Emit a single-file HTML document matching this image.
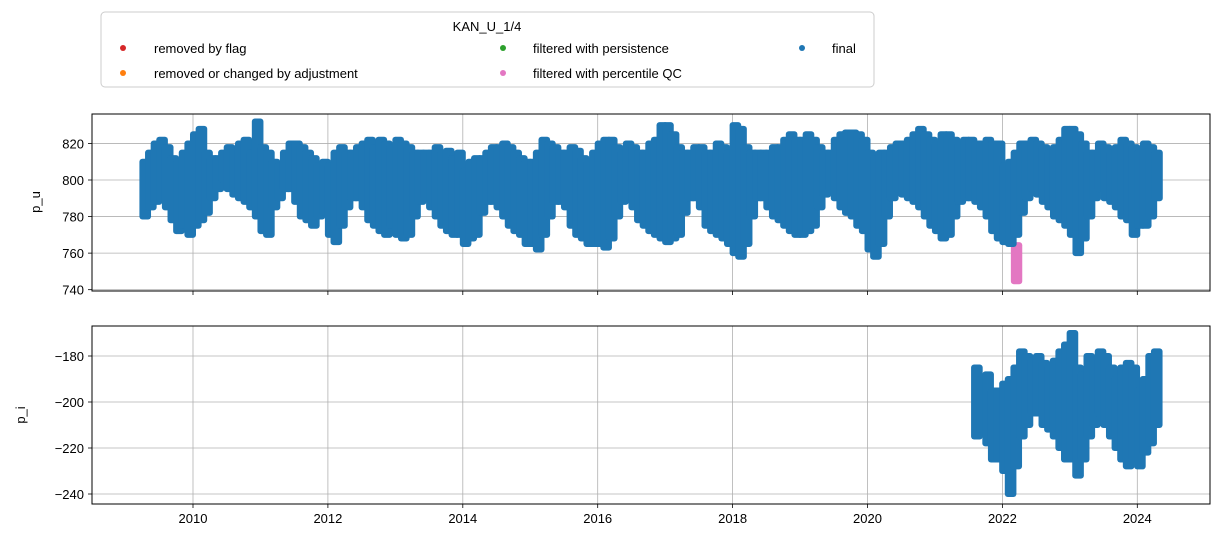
<!DOCTYPE html>
<html><head><meta charset="utf-8"><style>
body{margin:0;background:#fff;}
svg text{font-family:"Liberation Sans","DejaVu Sans",sans-serif;font-size:13px;fill:#000;}
</style></head><body>
<svg id="chart" width="1220" height="542" xmlns="http://www.w3.org/2000/svg">
<g>
<rect x="101" y="12" width="773" height="75" rx="4" fill="#fff" stroke="#ccc"/>
<text x="487" y="31" text-anchor="middle">KAN_U_1/4</text>
<g><circle cx="123" cy="48" r="3" fill="#d62728"/><text x="154" y="53">removed by flag</text></g>
<g><circle cx="123" cy="73" r="3" fill="#ff7f0e"/><text x="154" y="78">removed or changed by adjustment</text></g>
<g><circle cx="503" cy="48" r="3" fill="#2ca02c"/><text x="533" y="53">filtered with persistence</text></g>
<g><circle cx="503" cy="73" r="3" fill="#e377c2"/><text x="533" y="78">filtered with percentile QC</text></g>
<g><circle cx="802" cy="48" r="3" fill="#1f77b4"/><text x="832" y="53">final</text></g>
</g>
<g id="topPanel"></g>
<g id="botPanel"></g>
<text transform="translate(40,202) rotate(-90)" text-anchor="middle">p_u</text>
<text transform="translate(25,415) rotate(-90)" text-anchor="middle">p_i</text>
</svg>
<script>
const xTickYears=[2010,2012,2014,2016,2018,2020,2022,2024];
const topTicks=[740,760,780,800,820];
const botTicks=[-240,-220,-200,-180];
const puStart=2009.25;
const puLow=[780,785,788,790,785,778,772,775,770,
775,778,782,790,795,800,795,792,790,788,785,780,
772,770,785,790,795,795,788,780,778,775,780,782,
770,766,775,785,790,790,785,778,775,772,770,775,
770,768,770,780,788,790,785,780,775,772,770,770,
765,768,770,782,788,788,785,780,775,772,770,765,
765,762,770,780,788,788,785,775,770,768,765,765,
765,763,768,780,788,790,785,778,775,772,770,768,
766,768,770,782,790,790,785,775,772,770,768,765,
760,758,765,780,790,790,785,780,778,775,772,770,
770,772,775,785,792,795,790,785,782,780,775,772,
762,758,765,780,790,795,792,790,788,785,780,775,
772,768,770,780,788,790,790,788,785,780,772,768,
766,765,770,782,790,795,792,788,785,780,778,775,
770,760,768,780,790,795,790,788,785,780,778,770,
775,775,780,790];
const puHigh=[810,815,820,822,818,812,810,815,820,
825,828,815,812,812,815,818,816,820,822,815,832,
818,815,810,808,815,820,820,818,815,812,808,810,
808,815,818,815,815,818,820,822,818,822,820,818,
822,820,818,815,815,815,815,818,815,816,812,815,
805,810,812,812,815,818,818,820,818,815,812,810,
810,815,822,820,818,815,815,818,816,812,810,815,
820,822,822,818,815,820,818,815,815,820,822,830,
830,825,818,815,815,818,818,815,815,820,818,815,
830,828,818,815,815,815,815,818,818,822,825,822,
822,825,822,818,815,815,822,825,826,826,825,822,
815,812,815,815,818,820,820,822,825,828,825,822,
820,825,825,822,820,822,822,820,820,822,820,820,
808,810,815,820,820,822,820,818,815,818,822,828,
828,825,820,815,815,820,818,815,818,822,820,818,
815,820,818,815];
const pinkX=[2022.17,2022.25];
const pinkRange=[743,766];
const piStart=2021.58;
const piLow=[-215,-212,-218,-225,-225,
-230,-240,-228,-215,-210,-205,-205,-210,-212,-215,-220,-225,
-225,-232,-225,-215,-210,-205,-210,-215,-220,-225,-228,-225,
-228,-222,-218,-210];
const piHigh=[-185,-190,-188,-195,-195,
-192,-190,-185,-178,-180,-182,-180,-183,-185,-182,-178,-175,
-170,-185,-188,-180,-182,-178,-180,-185,-190,-185,-183,-185,
-195,-190,-180,-178];

const NS="http://www.w3.org/2000/svg";
const L=92,R=1210;
const X=y=>193+(y-2010)*67.45;
const Yt=v=>180-(v-800)*1.828;
const Yb=v=>402-(v+200)*2.3;
function mk(p,tag,a){const e=document.createElementNS(NS,tag);for(const k in a)e.setAttribute(k,a[k]);p.appendChild(e);return e;}
function panel(g,y0,y1,ticks,Y,labels){
  xTickYears.forEach(y=>{const l=mk(g,'line',{x1:X(y),x2:X(y),y1:y0,y2:y1,stroke:'#b0b0b0','stroke-width':0.8});
    
    
    mk(g,'line',{x1:X(y),x2:X(y),y1:y1,y2:y1+4,stroke:'#000','stroke-width':0.8});
    if(labels){const t=mk(g,'text',{x:X(y),y:y1+19,'text-anchor':'middle'});t.textContent=y;
      
      }});
  ticks.forEach(v=>{const l=mk(g,'line',{x1:L,x2:R,y1:Y(v),y2:Y(v),stroke:'#b0b0b0','stroke-width':0.8});
    
    
    mk(g,'line',{x1:L-4,x2:L,y1:Y(v),y2:Y(v),stroke:'#000','stroke-width':0.8});
    const t=mk(g,'text',{x:L-8,y:Y(v)+5,'text-anchor':'end'});t.textContent=(v<0?'\u2212'+(-v):v);
    
    });
}
function bars(g,start,lo,hi,Y,name){
  const w=67.45/12;
  lo.forEach((v,i)=>{const x=X(start+i/12);const y1=Y(hi[i]),y2=Y(v);
    const r=mk(g,'rect',{x:x-3,y:y1-3,width:w+6,height:y2-y1+6,rx:3,fill:'#1f77b4'});
    
    });
}
const topG=document.getElementById('topPanel'),botG=document.getElementById('botPanel');
panel(topG,114,291,topTicks,Yt,false);
const pk=mk(topG,'rect',{x:X(pinkX[0])-3,y:Yt(pinkRange[1]),width:X(pinkX[1])-X(pinkX[0])+6,height:Yt(pinkRange[0])-Yt(pinkRange[1]),rx:3,fill:'#e377c2'});


bars(topG,puStart,puLow,puHigh,Yt,'p-u-points');
mk(topG,'rect',{x:L,y:114,width:R-L,height:177,fill:'none',stroke:'#000','stroke-width':1});
panel(botG,326,504,botTicks,Yb,true);
bars(botG,piStart,piLow,piHigh,Yb,'p-i-points');
mk(botG,'rect',{x:L,y:326,width:R-L,height:178,fill:'none',stroke:'#000','stroke-width':1});
</script>
</body></html>
